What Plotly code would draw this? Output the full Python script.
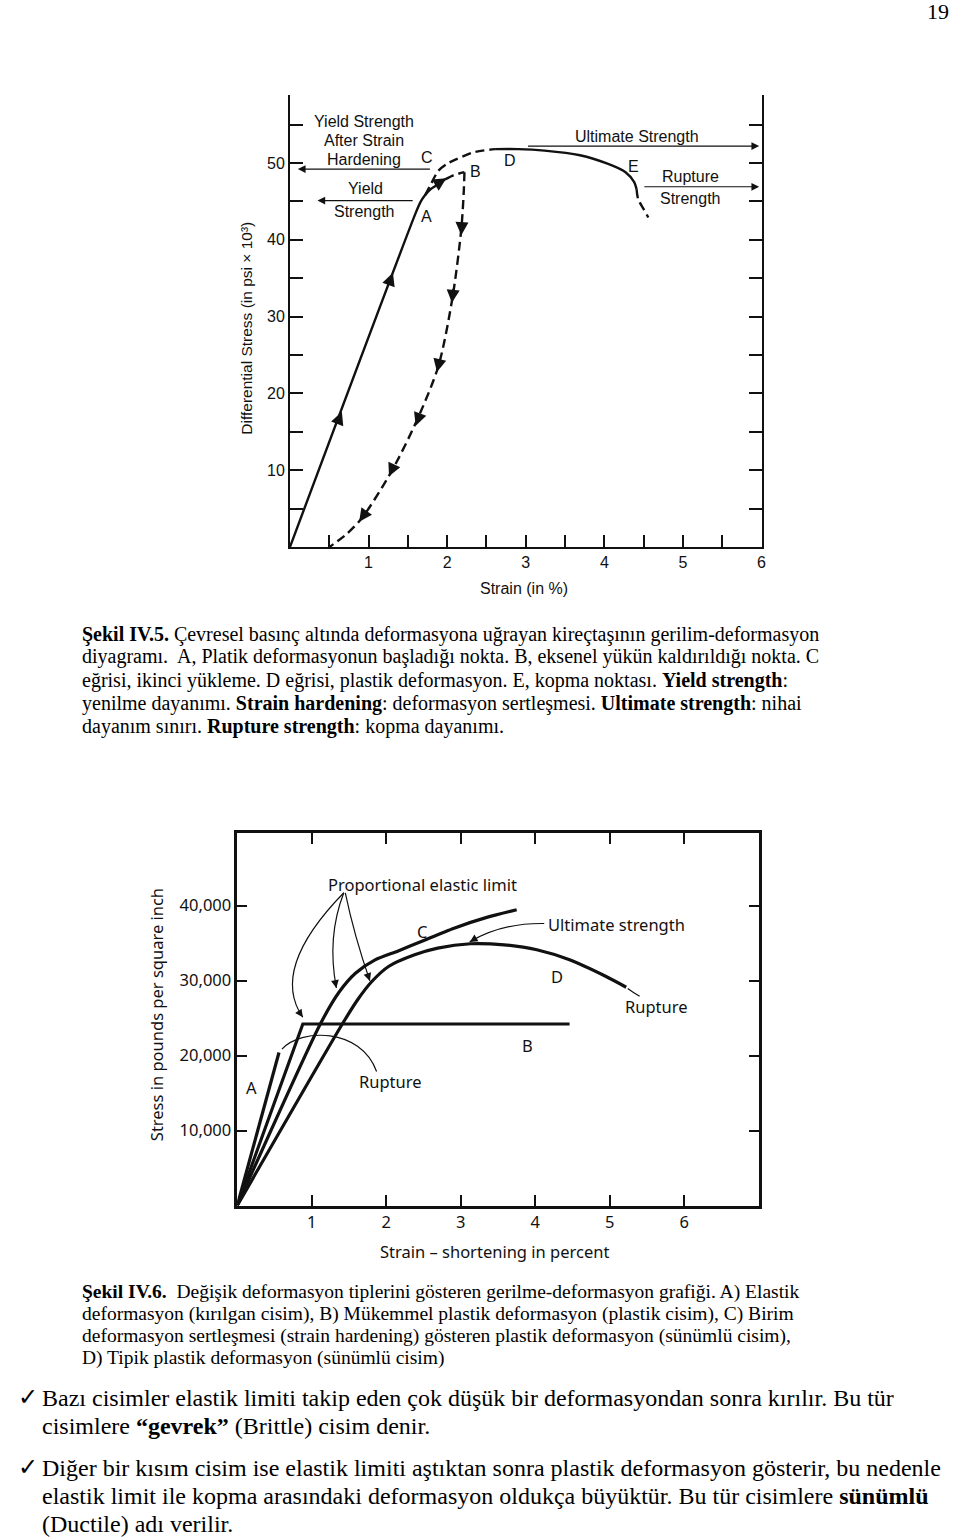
import plotly.graph_objects as go

W, H = 960, 1539


def px(x):
    return x / W


def py(y):
    return 1 - y / H


INK = "#111111"

# ---------------- Chart 1 (Şekil IV.5) data ----------------
load_x = [0, 1.60, 1.66, 1.71, 1.78, 1.85, 1.92, 1.98]
load_y = [0, 43.5, 44.9, 45.7, 46.5, 47.0, 47.5, 47.9]
toB_x = [1.98, 2.08, 2.22]
toB_y = [47.9, 48.4, 48.8]
unload_x = [2.22, 2.21, 2.18, 2.07, 1.89, 1.62, 1.29, 0.91, 0.70, 0.50]
unload_y = [48.8, 46.0, 41.4, 32.6, 23.6, 16.6, 9.8, 3.7, 1.5, 0.0]
reload_x = [1.72, 1.79, 1.89, 2.00, 2.12, 2.34, 2.61]
reload_y = [45.8, 47.2, 49.0, 49.9, 50.5, 51.4, 51.8]
plastic_x = [2.61, 2.90, 3.24, 3.69, 4.04, 4.27, 4.38, 4.41]
plastic_y = [51.8, 51.8, 51.6, 51.0, 49.9, 48.8, 47.5, 46.6]
broken_x = [4.41, 4.43, 4.50, 4.56]
broken_y = [46.6, 45.3, 44.0, 42.9]

c1_xticks = [0.5, 1, 1.5, 2, 2.5, 3, 3.5, 4, 4.5, 5, 5.5, 6]
c1_xlabels = ["", "1", "", "2", "", "3", "", "4", "", "5", "", "6"]
c1_yticks = [5, 10, 15, 20, 25, 30, 35, 40, 45, 50, 55]
c1_ylabels = ["", "10", "", "20", "", "30", "", "40", "", "50", ""]

# direction arrows on the curves: (head_x, head_y, tail_x, tail_y)
c1_curve_arrows = [
    (0.66, 17.6, 0.60, 16.0),
    (1.31, 35.7, 1.25, 34.0),
    (1.99, 48.0, 1.91, 47.5),
    (2.18, 40.6, 2.19, 42.6),
    (2.06, 31.8, 2.08, 33.8),
    (1.87, 22.8, 1.91, 24.6),
    (1.60, 15.8, 1.66, 17.5),
    (1.26, 9.2, 1.33, 10.8),
    (0.88, 3.3, 0.95, 4.3),
]

# labelled horizontal arrows: (head_x, tail_x, y)
c1_hlines = [
    (0.10, 1.80, 49.2),
    (0.35, 1.58, 45.1),
    (5.97, 3.01, 52.2),
    (5.97, 4.49, 46.9),
]

c1_labels = [
    ("Yield Strength", 0.94, 55.4),
    ("After Strain", 0.94, 52.9),
    ("Hardening", 0.94, 50.4),
    ("C", 1.74, 50.7),
    ("Yield", 0.96, 46.7),
    ("Strength", 0.94, 43.7),
    ("A", 1.74, 43.0),
    ("B", 2.36, 48.9),
    ("D", 2.80, 50.3),
    ("Ultimate Strength", 4.42, 53.4),
    ("E", 4.37, 49.5),
    ("Rupture", 5.09, 48.2),
    ("Strength", 5.09, 45.4),
]

# ---------------- Chart 2 (Şekil IV.6) data ----------------
A_x = [0, 0.56]
A_y = [0, 20400]
B_x = [0, 0.88, 4.46]
B_y = [0, 24200, 24200]
C_x = [0, 1.12, 1.37, 1.59, 1.85, 2.16, 2.47, 2.91, 3.36, 3.75]
C_y = [0, 24300, 28500, 31000, 32760, 33950, 35200, 36980, 38450, 39430]
D_x = [0, 1.41, 1.62, 1.80, 2.03, 2.38, 2.69, 3.13, 3.58, 4.02, 4.46, 4.95, 5.22]
D_y = [0, 24200, 27500, 29800, 31870, 33430, 34320, 34900, 34760, 34100, 32760, 30530, 29100]

c2_xticks = [1, 2, 3, 4, 5, 6]
c2_xlabels = ["1", "2", "3", "4", "5", "6"]
c2_yticks = [10000, 20000, 30000, 40000]
c2_ylabels = ["10,000", "20,000", "30,000", "40,000"]

c2_labels = [
    ("Proportional elastic limit", 2.49, 42870, "center"),
    ("C", 2.48, 36470, "center"),
    ("Ultimate strength", 4.14, 37530, "left"),
    ("D", 4.29, 30470, "center"),
    ("Rupture", 5.63, 26470, "center"),
    ("B", 3.89, 21400, "center"),
    ("A", 0.19, 15670, "center"),
    ("Rupture", 2.06, 16470, "center"),
]

# curved leader lines: start, control(s), end
c2_leaders = [
    ((1.43, 41700), [(0.43, 31500)], (0.88, 25100)),
    ((1.43, 41700), [(1.20, 35800)], (1.33, 29000)),
    ((1.45, 41700), [(1.57, 36000)], (1.78, 29950)),
    ((4.12, 37600), [(3.55, 37700)], (3.12, 35150)),
    ((5.40, 27900), [(5.33, 28300)], (5.24, 28950)),
    ((1.87, 17870), [(1.65, 23800), (0.85, 23600)], (0.60, 20850)),
]

# ---------------- page text ----------------
caption1 = [
    "<b>Şekil IV.5.</b> Çevresel basınç altında deformasyona uğrayan kireçtaşının gerilim-deformasyon",
    "diyagramı.  A, Platik deformasyonun başladığı nokta. B, eksenel yükün kaldırıldığı nokta. C",
    "eğrisi, ikinci yükleme. D eğrisi, plastik deformasyon. E, kopma noktası. <b>Yield strength</b>:",
    "yenilme dayanımı. <b>Strain hardening</b>: deformasyon sertleşmesi. <b>Ultimate strength</b>: nihai",
    "dayanım sınırı. <b>Rupture strength</b>: kopma dayanımı.",
]
caption1_y = [634, 657, 680, 703, 726]

caption2 = [
    "<b>Şekil IV.6.</b>  Değişik deformasyon tiplerini gösteren gerilme-deformasyon grafiği. A) Elastik",
    "deformasyon (kırılgan cisim), B) Mükemmel plastik deformasyon (plastik cisim), C) Birim",
    "deformasyon sertleşmesi (strain hardening) gösteren plastik deformasyon (sünümlü cisim),",
    "D) Tipik plastik deformasyon (sünümlü cisim)",
]
caption2_y = [1292, 1314, 1336, 1358]

bullets = [
    "Bazı cisimler elastik limiti takip eden çok düşük bir deformasyondan sonra kırılır. Bu tür",
    "cisimlere <b>“gevrek”</b> (Brittle) cisim denir.",
    "Diğer bir kısım cisim ise elastik limiti aştıktan sonra plastik deformasyon gösterir, bu nedenle",
    "elastik limit ile kopma arasındaki deformasyon oldukça büyüktür. Bu tür cisimlere <b>sünümlü</b>",
    "(Ductile) adı verilir.",
]
bullets_y = [1398, 1426, 1468, 1496, 1524]
check_y = [1397, 1467]

# ---------------- build figure ----------------
fig = go.Figure()

SANS1 = "Liberation Sans, Arial, sans-serif"
SANS2 = "Noto Sans, DejaVu Sans, sans-serif"
SERIF = "Liberation Serif, Times New Roman, serif"

dash1 = "9px,5px"


def line1(x, y, dash=None, shape="spline"):
    fig.add_trace(go.Scatter(
        x=x, y=y, mode="lines", xaxis="x", yaxis="y",
        line=dict(color=INK, width=2.4, dash=dash, shape=shape, smoothing=0.8),
        showlegend=False, hoverinfo="skip"))


line1(load_x, load_y)
line1(toB_x, toB_y, dash1)
line1(unload_x, unload_y, dash1)
line1(reload_x, reload_y, dash1)
line1(plastic_x, plastic_y)
line1(broken_x, broken_y, dash1)


def line2(x, y, shape="linear"):
    fig.add_trace(go.Scatter(
        x=x, y=y, mode="lines", xaxis="x2", yaxis="y2",
        line=dict(color=INK, width=3.2, shape=shape, smoothing=0.7),
        showlegend=False, hoverinfo="skip"))


line2(A_x, A_y)
line2(B_x, B_y)
line2(C_x, C_y, "spline")
line2(D_x, D_y, "spline")

annotations = []
shapes = []


def ptext(t, x, y, size, family, xanchor="center", angle=0, color=INK):
    annotations.append(dict(x=px(x), y=py(y), xref="paper", yref="paper",
                            text=t, showarrow=False, xanchor=xanchor,
                            yanchor="middle", textangle=angle,
                            font=dict(family=family, size=size, color=color)))


# chart 1 arrows on curves
for hx, hy, tx, ty in c1_curve_arrows:
    annotations.append(dict(x=hx, y=hy, ax=tx, ay=ty, xref="x", yref="y",
                            axref="x", ayref="y", text="", showarrow=True,
                            arrowhead=2, arrowsize=1.3, arrowwidth=2,
                            arrowcolor=INK))
# chart 1 horizontal arrows
for hx, tx, yy in c1_hlines:
    annotations.append(dict(x=hx, y=yy, ax=tx, ay=yy, xref="x", yref="y",
                            axref="x", ayref="y", text="", showarrow=True,
                            arrowhead=2, arrowsize=1.4, arrowwidth=1.1,
                            arrowcolor=INK))
for t, xx, yy in c1_labels:
    annotations.append(dict(x=xx, y=yy, xref="x", yref="y", text=t,
                            showarrow=False, xanchor="center", yanchor="middle",
                            font=dict(family=SANS1, size=16, color=INK)))

# chart 1 axis titles
ptext("Differential Stress (in psi × 10³)", 247, 328, 15.5, SANS1, angle=-90)
ptext("Strain (in %)", 527, 589, 16, SANS1)

# chart 2 leaders
for (sx, sy), ctrl, (ex, ey) in c2_leaders:
    if len(ctrl) == 1:
        (cx, cy), = ctrl
        path = f"M {sx},{sy} Q {cx},{cy} {ex},{ey}"
        lx, ly = cx, cy
    else:
        (c1x, c1y), (c2x, c2y) = ctrl
        path = f"M {sx},{sy} C {c1x},{c1y} {c2x},{c2y} {ex},{ey}"
        lx, ly = c2x, c2y
    shapes.append(dict(type="path", path=path, xref="x2", yref="y2",
                       line=dict(color=INK, width=1.2)))
    f = 0.12
    annotations.append(dict(x=ex, y=ey, ax=ex + (lx - ex) * f,
                            ay=ey + (ly - ey) * f,
                            xref="x2", yref="y2", axref="x2", ayref="y2",
                            text="", showarrow=True, arrowhead=2,
                            arrowsize=1.3, arrowwidth=1.2, arrowcolor=INK))

for t, xx, yy, anc in c2_labels:
    annotations.append(dict(x=xx, y=yy, xref="x2", yref="y2", text=t,
                            showarrow=False, xanchor=anc, yanchor="middle",
                            font=dict(family=SANS2, size=16.5, color=INK)))

ptext("Stress in pounds per square inch", 157, 1015, 16.5, SANS2, angle=-90)
ptext("Strain – shortening in percent", 497, 1251, 16.5, SANS2)

# page text
ptext("19", 956, 11, 22, SERIF, xanchor="right", color="#000")
for t, yy in zip(caption1, caption1_y):
    ptext(t, 80, yy, 20, SERIF, xanchor="left", color="#000")
for t, yy in zip(caption2, caption2_y):
    ptext(t, 80, yy, 19.5, SERIF, xanchor="left", color="#000")
for t, yy in zip(bullets, bullets_y):
    ptext(t, 40, yy, 24, SERIF, xanchor="left", color="#000")
for yy in check_y:
    ptext("✓", 28, yy, 24, "DejaVu Sans", color="#000")

axis_common = dict(showgrid=False, zeroline=False, showline=True,
                   linecolor=INK, ticks="inside", tickcolor=INK, fixedrange=True)

fig.update_layout(
    width=W, height=H,
    margin=dict(l=0, r=0, t=0, b=0),
    paper_bgcolor="white", plot_bgcolor="white",
    showlegend=False,
    xaxis=dict(domain=[px(291.5), px(765.5)], range=[0, 6], anchor="y",
               tickvals=c1_xticks, ticktext=c1_xlabels, ticklen=12,
               tickwidth=1.5, linewidth=2,
               tickfont=dict(family=SANS1, size=16, color=INK),
               **axis_common),
    yaxis=dict(domain=[py(547), py(95)], range=[0, 58.85], anchor="x",
               tickvals=c1_yticks, ticktext=c1_ylabels, ticklen=13,
               tickwidth=1.5, linewidth=2, mirror="ticks",
               tickfont=dict(family=SANS1, size=16, color=INK),
               **axis_common),
    xaxis2=dict(domain=[px(238.5), px(762.8)], range=[0, 7], anchor="y2",
                tickvals=c2_xticks, ticktext=c2_xlabels, ticklen=11,
                tickwidth=1.5, linewidth=2.5, mirror="ticks",
                tickfont=dict(family=SANS2, size=16.5, color=INK),
                **axis_common),
    yaxis2=dict(domain=[py(1205.5), py(833)], range=[0, 49670], anchor="x2",
                tickvals=c2_yticks, ticktext=c2_ylabels, ticklen=10,
                tickwidth=1.5, linewidth=2.5, mirror="ticks",
                tickfont=dict(family=SANS2, size=16.5, color=INK),
                **axis_common),
    annotations=annotations,
    shapes=shapes,
)

fig.write_html("out.html")
